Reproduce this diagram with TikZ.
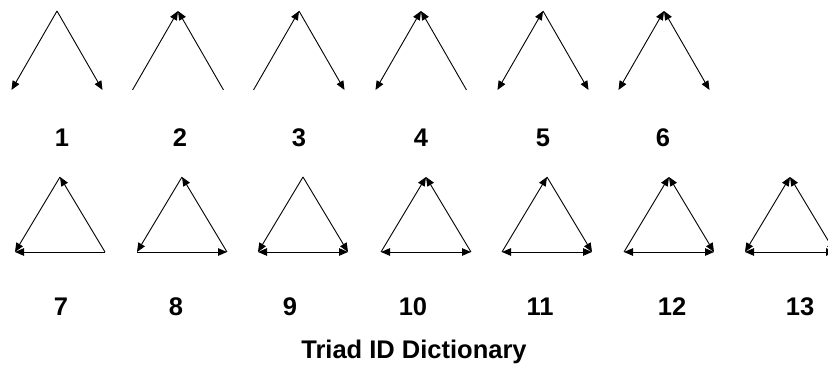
\documentclass[tikz,border=0pt]{standalone}
\usepackage{fontspec}
\setmainfont{Liberation Sans}
\usetikzlibrary{arrows.meta}
\begin{document}
\begin{tikzpicture}[x=1pt,y=-1pt,
  >={Triangle[length=9pt,width=7.5pt]},
  edge/.style={line width=0.9pt, draw=black},
  lab/.style={font=\fontsize{25.5}{30}\selectfont\bfseries, inner sep=0pt}]
\useasboundingbox (0,0) rectangle (828,379);
\clip (0,0) rectangle (828,379);
% row 1 vertices
\foreach \n/\x in {1/57,2/178,3/299,4/421,5/543,6/664}{
  \coordinate (T\n) at (\x,11);
  \coordinate (L\n) at ({\x-45.5},90);
  \coordinate (R\n) at ({\x+45.5},90);
}
% row 2 vertices
\foreach \n/\x in {7/60,8/182,9/303,10/426,11/547,12/669,13/790}{
  \coordinate (T\n) at (\x,177);
  \coordinate (L\n) at ({\x-45},252);
  \coordinate (R\n) at ({\x+45},252);
}
% 1
\draw[edge,->] (T1) -- (L1);
\draw[edge,->] (T1) -- (R1);
% 2
\draw[edge,->] (L2) -- (T2);
\draw[edge,->] (R2) -- (T2);
% 3
\draw[edge,->] (L3) -- (T3);
\draw[edge,->] (T3) -- (R3);
% 4
\draw[edge,<->] (L4) -- (T4);
\draw[edge,->] (R4) -- (T4);
% 5
\draw[edge,<->] (L5) -- (T5);
\draw[edge,->] (T5) -- (R5);
% 6
\draw[edge,<->] (L6) -- (T6);
\draw[edge,<->] (R6) -- (T6);
% 7
\draw[edge,->] (R7) -- (T7);
\draw[edge,->] (T7) -- (L7);
\draw[edge,->] (R7) -- (L7);
% 8
\draw[edge,->] (R8) -- (T8);
\draw[edge,->] (T8) -- (L8);
\draw[edge,->] (L8) -- (R8);
% 9
\draw[edge,->] (T9) -- (L9);
\draw[edge,->] (T9) -- (R9);
\draw[edge,<->] (L9) -- (R9);
% 10
\draw[edge,->] (L10) -- (T10);
\draw[edge,->] (R10) -- (T10);
\draw[edge,<->] (L10) -- (R10);
% 11
\draw[edge,->] (L11) -- (T11);
\draw[edge,->] (T11) -- (R11);
\draw[edge,<->] (L11) -- (R11);
% 12
\draw[edge,->] (L12) -- (T12);
\draw[edge,<->] (T12) -- (R12);
\draw[edge,<->] (L12) -- (R12);
% 13
\draw[edge,<->] (L13) -- (T13);
\draw[edge,<->] (T13) -- (R13);
\draw[edge,<->] (L13) -- (R13);
% labels
\node[lab] (n1) at (62,138) {1};
\node[lab] (n2) at (180,138) {2};
\node[lab] (n3) at (299,138) {3};
\node[lab] (n4) at (421,138) {4};
\node[lab] (n5) at (543,138) {5};
\node[lab] (n6) at (663,138) {6};
\node[lab] (n7) at (61,307) {7};
\node[lab] (n8) at (176,307) {8};
\node[lab] (n9) at (290,307) {9};
\node[lab] (n10) at (413,307) {10};
\node[lab] (n11) at (540,307) {11};
\node[lab] (n12) at (672,307) {12};
\node[lab] (n13) at (800,307) {13};
\node[lab] (title) at (414,352) {Triad ID Dictionary};
\end{tikzpicture}
\end{document}
